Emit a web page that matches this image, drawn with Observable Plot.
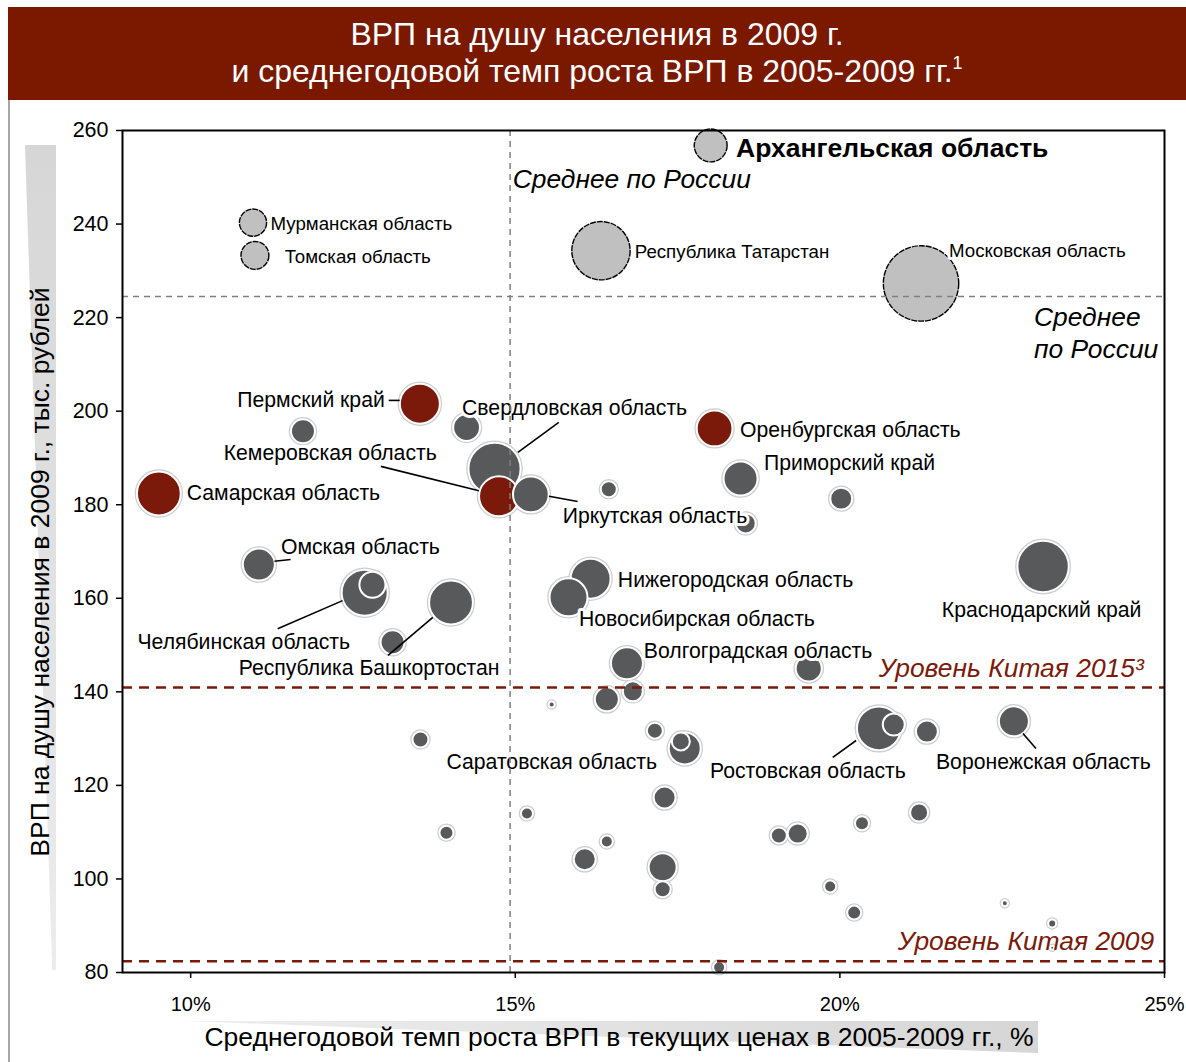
<!DOCTYPE html>
<html>
<head>
<meta charset="utf-8">
<script src="https://cdn.jsdelivr.net/npm/d3@7"></script>
<script src="https://cdn.jsdelivr.net/npm/@observablehq/plot@0.6"></script>
<style>
  body { margin: 0; background: #fff; font-family: "Liberation Sans", Arial, sans-serif; }
  #page { position: relative; width: 1186px; height: 1062px; overflow: hidden; background: #fff; }
  #border { position: absolute; left: 8px; top: 100px; width: 0; height: 962px; border-left: 2px solid #a6a6a6; }
  #title { position: absolute; left: 8px; top: 7px; width: 1178px; height: 93px; background: #7b1800;
           color: #fff; font-size: 32px; line-height: 37px; text-align: center; box-sizing: border-box; padding-top: 9px; }
  #title sup { font-size: 18px; vertical-align: 13px; line-height: 0; }
  #chart { position: absolute; left: 0; top: 100px; }
  #ywedge { position: absolute; left: 25px; top: 145px; width: 31px; height: 825px;
            background: linear-gradient(#d6d6d6, #ececec); clip-path: polygon(0 0, 100% 0, 100% 100%, 88% 100%); }
  #xwedge { position: absolute; left: 185px; top: 1021px; width: 853px; height: 32px;
            background: linear-gradient(90deg, #eeeeee, #d6d6d6); clip-path: polygon(0 0, 100% 0, 100% 100%); }
  #ylabel { position: absolute; left: 40px; top: 572px; transform: translate(-50%, -50%) rotate(-90deg);
            white-space: nowrap; font-size: 26.5px; color: #000; }
  #xlabel { position: absolute; left: 619px; top: 1037px; transform: translate(-50%, -50%);
            white-space: nowrap; font-size: 26.5px; color: #000; }
</style>
</head>
<body>
<div id="page">
  <div id="border"></div>
  <div id="title">ВРП на душу населения в 2009 г.<br>и среднегодовой темп роста ВРП в 2005-2009 гг.<sup>1</sup></div>
  <div id="ywedge"></div>
  <div id="xwedge"></div>
  <div id="chart"></div>
  <div id="ylabel">ВРП на душу населения в 2009 г., тыс. рублей</div>
  <div id="xlabel">Среднегодовой темп роста ВРП в текущих ценах в 2005-2009 гг., %</div>
</div>
<script>
// Axis ticks
const xTicks = [10, 15, 20, 25];
const yTicks = [80, 100, 120, 140, 160, 180, 200, 220, 240, 260];

// Regions: [name, growth %, GRP per capita (thous. rub), total GRP (bn rub, bubble size)]
const lightRegions = [
  ["Архангельская область", 18.01, 256.8, 270],
  ["Мурманская область", 10.96, 240.3, 185],
  ["Томская область", 10.99, 233.3, 195],
  ["Республика Татарстан", 16.32, 234.3, 850],
  ["Московская область", 21.25, 227.3, 1420]
];
const redRegions = [
  ["Пермский край", 13.53, 201.6, 400],
  ["Самарская область", 9.51, 182.4, 480],
  ["Кемеровская область", 14.75, 181.8, 400],
  ["Оренбургская область", 18.07, 196.3, 320]
];
const darkRegions = [
  [null, 11.73, 195.7, 144],
  [null, 14.25, 196.5, 180],
  ["Свердловская область", 14.68, 187.7, 680],
  ["Иркутская область", 15.24, 182.2, 320],
  [null, 16.44, 183.3, 64],
  ["Приморский край", 18.47, 185.6, 290],
  [null, 20.02, 181.3, 120],
  [null, 18.55, 176.0, 100],
  ["Омская область", 11.05, 167.2, 256],
  ["Челябинская область", 12.68, 161.2, 530],
  [null, 12.80, 162.9, 170],
  ["Республика Башкортостан", 14.01, 159.1, 480],
  [null, 13.11, 150.6, 144],
  ["Нижегородская область", 16.16, 164.2, 400],
  ["Новосибирская область", 15.82, 160.2, 360],
  ["Краснодарский край", 23.13, 166.8, 660],
  ["Волгоградская область", 16.72, 146.1, 256],
  [null, 19.52, 145.0, 170],
  [null, 16.81, 140.1, 100],
  [null, 16.41, 138.4, 144],
  [null, 15.56, 137.3, 9],
  [null, 17.15, 131.7, 64],
  ["Саратовская область", 17.61, 127.9, 256],
  [null, 17.55, 129.4, 81],
  [null, 17.30, 117.4, 121],
  ["Ростовская область", 20.60, 132.2, 480],
  [null, 20.83, 133.0, 121],
  [null, 21.34, 131.5, 121],
  ["Воронежская область", 22.68, 133.7, 225],
  [null, 13.54, 129.8, 64],
  [null, 13.94, 109.9, 49],
  [null, 15.18, 114.0, 36],
  [null, 16.41, 108.0, 36],
  [null, 16.07, 104.2, 121],
  [null, 17.27, 102.5, 196],
  [null, 17.27, 97.8, 64],
  [null, 18.14, 81.1, 36],
  [null, 19.06, 109.3, 64],
  [null, 19.35, 109.7, 100],
  [null, 20.34, 111.9, 49],
  [null, 21.22, 114.2, 81],
  [null, 19.85, 98.4, 36],
  [null, 20.22, 92.8, 49],
  [null, 22.54, 94.8, 9],
  [null, 23.27, 90.5, 16],
  [null, 23.27, 85.3, 4]
];

// Reference levels
const russiaAvgGrowth = 14.92;
const russiaAvgGrp = 224.5;
const china2015 = 140.9;
const china2009 = 82.4;

// Label anchors (data units): [text, x, y, anchor, style]
const labels = [
  ["Архангельская область", 18.40, 256.2, "start", "bold"],
  ["Мурманская область", 11.23, 240.1, "start", "small"],
  ["Томская область", 11.45, 232.9, "start", "small"],
  ["Республика Татарстан", 16.84, 234.1, "start", "small"],
  ["Московская область", 21.68, 234.3, "start", "small"],
  ["Пермский край", 12.99, 202.3, "end", "normal"],
  ["Свердловская область", 14.18, 200.6, "start", "normal"],
  ["Кемеровская область", 13.79, 191.0, "end", "normal"],
  ["Самарская область", 9.94, 182.4, "start", "normal"],
  ["Оренбургская область", 18.46, 195.9, "start", "normal"],
  ["Приморский край", 18.83, 188.8, "start", "normal"],
  ["Иркутская область", 15.73, 177.5, "start", "normal"],
  ["Омская область", 11.39, 170.9, "start", "normal"],
  ["Нижегородская область", 16.58, 163.8, "start", "normal"],
  ["Новосибирская область", 15.98, 155.5, "start", "normal"],
  ["Краснодарский край", 21.57, 157.4, "start", "normal"],
  ["Челябинская область", 9.18, 150.6, "start", "normal"],
  ["Республика Башкортостан", 10.74, 145.0, "start", "normal"],
  ["Волгоградская область", 16.98, 148.6, "start", "normal"],
  ["Саратовская область", 13.94, 124.9, "start", "normal"],
  ["Ростовская область", 18.00, 123.0, "start", "normal"],
  ["Воронежская область", 21.48, 124.9, "start", "normal"]
];

// Leader lines (data units): [x1, y1, x2, y2]
const leaders = [
  [13.05, 202.3, 13.22, 202.3],
  [15.04, 191.2, 15.67, 197.6],
  [12.93, 188.2, 14.44, 183.0],
  [15.52, 181.8, 15.96, 180.7],
  [11.29, 167.9, 11.54, 168.3],
  [12.34, 159.5, 11.34, 153.5],
  [13.73, 155.9, 13.04, 147.8],
  [20.25, 129.6, 19.89, 126.0],
  [22.82, 131.1, 23.02, 127.9]
];

// Annotation texts: [text, x, y, anchor, color]
const notes = [
  ["Среднее по России", 14.96, 250.0, "start", "black"],
  ["Среднее\nпо России", 22.99, 217.0, "start", "black"],
  ["Уровень Китая 2015³", 24.68, 145.0, "end", "#7b1a0a"],
  ["Уровень Китая 2009", 24.84, 86.6, "end", "#7b1a0a"]
];

const toObj = (g) => (r) => ({name: r[0], x: r[1], y: r[2], v: r[3], group: g});
const light = lightRegions.map(toObj("light"));
const bubbles = [...redRegions.map(toObj("red")), ...darkRegions.map(toObj("dark"))];
const groupColor = {red: "#7b1a0a", dark: "#58595b"};
const lab = labels.map(r => ({text: r[0], x: r[1], y: r[2], anchor: r[3], style: r[4]}));
const lead = leaders.map(r => ({x1: r[0], y1: r[1], x2: r[2], y2: r[3]}));
const nt = notes.map(r => ({text: r[0], x: r[1], y: r[2], anchor: r[3], color: r[4]}));

const font = "'Liberation Sans', Arial, sans-serif";
const labelMark = (data, anchor, size, weight) => Plot.text(data, {
  x: "x", y: "y", text: "text", textAnchor: anchor, fontSize: size, fontWeight: weight,
  fill: "black", stroke: "white", strokeWidth: 6, strokeLinejoin: "round"
});

const chart = Plot.plot({
  width: 1186,
  height: 962,
  marginLeft: 122,
  marginRight: 22,
  marginTop: 30,
  marginBottom: 90,
  style: {fontFamily: font, fontSize: "20px", color: "black", background: "transparent", overflow: "visible"},
  x: {domain: [8.95, 25], axis: null},
  y: {domain: [80, 260], axis: null},
  r: {type: "sqrt", domain: [0, 1600], range: [0, 40]},
  color: {type: "identity"},
  marks: [
    Plot.dot(bubbles, {x: "x", y: "y", r: "v", fill: "none", stroke: "#cdcdcd", strokeWidth: 4.5}),
    Plot.dot(bubbles, {x: "x", y: "y", r: "v", fill: d => groupColor[d.group], stroke: "white", strokeWidth: 2}),
    Plot.dot(light, {x: "x", y: "y", r: "v", fill: "#c0c0c0", stroke: "black", strokeWidth: 1.4, strokeDasharray: "6,1"}),
    Plot.link(lead, {x1: "x1", y1: "y1", x2: "x2", y2: "y2", stroke: "black", strokeWidth: 1.6}),
    labelMark(lab.filter(d => d.style === "normal" && d.anchor === "start"), "start", 21.2, "normal"),
    labelMark(lab.filter(d => d.style === "normal" && d.anchor === "end"), "end", 21.2, "normal"),
    labelMark(lab.filter(d => d.style === "small"), "start", 18.7, "normal"),
    labelMark(lab.filter(d => d.style === "bold"), "start", 26.5, "bold"),
    Plot.ruleX([russiaAvgGrowth], {stroke: "#7f7f7f", strokeWidth: 1.5, strokeDasharray: "6,5"}),
    Plot.ruleY([russiaAvgGrp], {stroke: "#7f7f7f", strokeWidth: 1.5, strokeDasharray: "6,5"}),
    Plot.ruleY([china2015, china2009], {stroke: "#7b1a0a", strokeWidth: 2.5, strokeDasharray: "10,7"}),
    Plot.text(nt.filter(d => d.anchor === "start"), {x: "x", y: "y", text: "text", textAnchor: "start",
      fontSize: 26.4, fontStyle: "italic", fill: "color", lineHeight: 1.22}),
    Plot.text(nt.filter(d => d.anchor === "end"), {x: "x", y: "y", text: "text", textAnchor: "end",
      fontSize: 26.4, fontStyle: "italic", fill: "color"}),
    Plot.axisY({ticks: yTicks, tickSize: 6, tickPadding: 8, fontSize: 21.5, strokeWidth: 1.5, label: null}),
    Plot.axisX({ticks: xTicks, tickFormat: d => `${d}%`, tickSize: 6, tickPadding: 18, fontSize: 20, strokeWidth: 1.5, label: null}),
    Plot.frame({stroke: "black", strokeWidth: 2})
  ]
});
document.getElementById("chart").appendChild(chart);
</script>
</body>
</html>
